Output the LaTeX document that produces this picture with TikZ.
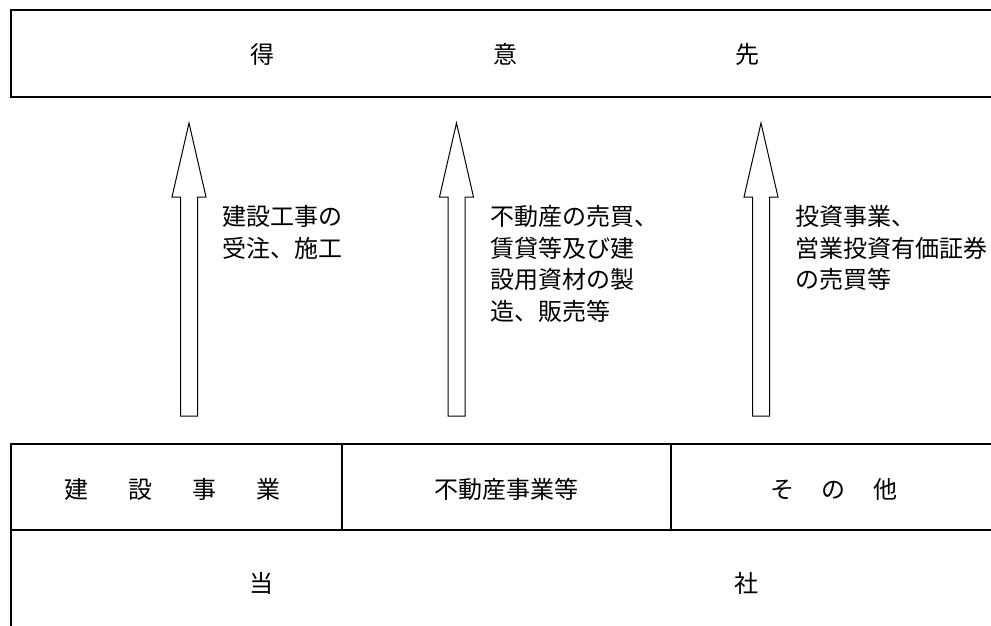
\documentclass[tikz,border=0pt]{standalone}
\usepackage{fontspec}
\newfontfamily\jp{Noto Sans CJK JP}
\newcommand{\cb}[2]{\makebox[#1]{#2}}
\begin{document}
\begin{tikzpicture}[x=1pt,y=-1pt,
  frame/.style={draw=black,line width=1.7pt},
  lbl/.style={font=\jp\fontsize{24}{31.5}\selectfont,inner sep=0pt},
  note/.style={lbl,align=left,anchor=north west},
  hollow/.style={draw=black,line width=1pt,fill=white,line join=miter},
  hollowarrow/.pic={\draw[hollow] (-8.5,0) -- (-8.5,-219) -- (-17,-219) -- (0,-293) -- (17,-219) -- (8.5,-219) -- (8.5,0) -- cycle;}
]
\useasboundingbox (0,0) rectangle (991,625);
\clip (0,0) rectangle (991,625);
\fill[white] (0,0) rectangle (991,625);
% customer box
\draw[frame] (11,10) rectangle (1010,97);
\node[lbl] (client) at (505,54) {\cb{242.5pt}{得}\cb{242.5pt}{意}\cb{242.5pt}{先}};
% segment row
\draw[frame] (11,444) rectangle (1010,530);
\draw[frame] (342,444) -- (342,530);
\draw[frame] (671,444) -- (671,530);
\node[lbl] (seg1) at (172.5,489) {\cb{63.7pt}{建}\cb{63.7pt}{設}\cb{63.7pt}{事}\cb{63.7pt}{業}};
\node[lbl] (seg2) at (506,489) {不動産事業等};
\node[lbl] (seg3) at (834,489) {\cb{51.5pt}{そ}\cb{51.5pt}{の}\cb{51.5pt}{他}};
% company box
\draw[frame] (11,530) rectangle (1010,650);
\node[lbl] (company) at (504.5,583) {\cb{485pt}{当}\cb{485pt}{社}};
% arrows
\coordinate (a1) at (189,416);
\coordinate (a2) at (456.5,416);
\coordinate (a3) at (761,416);
\pic at (a1) {hollowarrow};
\pic at (a2) {hollowarrow};
\pic at (a3) {hollowarrow};
% labels
\node[note] (n1) at (222,205.5) {建設工事の\\受注、施工};
\node[note] (n2) at (490,205.5) {不動産の売買、\\賃貸等及び建\\設用資材の製\\造、販売等};
\node[note] (n3) at (795,205.5) {投資事業、\\営業投資有価証券\\の売買等};
\end{tikzpicture}
\end{document}
